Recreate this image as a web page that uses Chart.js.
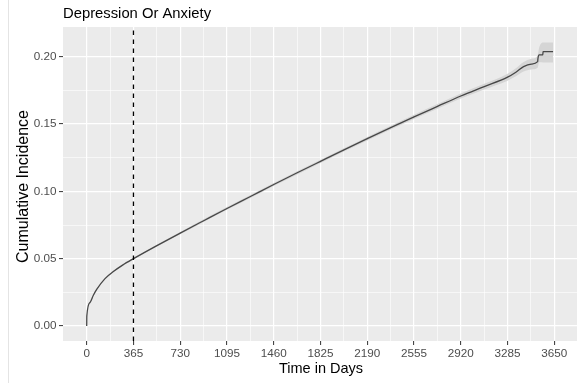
<!DOCTYPE html>
<html>
<head>
<meta charset="utf-8">
<script src="https://cdn.jsdelivr.net/npm/chart.js@4/dist/chart.umd.min.js"></script>
<style>
  html, body { margin: 0; padding: 0; background: #ffffff; }
  #wrap { width: 579px; height: 383px; position: relative; }
</style>
</head>
<body>
<div id="wrap"><canvas id="chart" width="579" height="383"></canvas></div>
<script>
// Texts
const plotTitle = 'Depression Or Anxiety';
const xAxisTitle = 'Time in Days';
const yAxisTitle = 'Cumulative Incidence';

// Axis ticks
const xTickDays = [0, 365, 730, 1095, 1460, 1825, 2190, 2555, 2920, 3285, 3650];
const xTickLabels = ['0', '365', '730', '1095', '1460', '1825', '2190', '2555', '2920', '3285', '3650'];
const xMinorDays = [182.5, 547.5, 912.5, 1277.5, 1642.5, 2007.5, 2372.5, 2737.5, 3102.5, 3467.5];
const yTickValues = [0, 0.05, 0.10, 0.15, 0.20];
const yTickLabels = ['0.00', '0.05', '0.10', '0.15', '0.20'];
const yMinorValues = [0.025, 0.075, 0.125, 0.175];

// Landmark at one year
const landmarkDay = 365;

// Cumulative incidence estimate
const days = [0, 1, 26, 52, 78, 143, 208, 280, 365, 548, 730, 913, 1095, 1278, 1460, 1643, 1825, 2008,
  2190, 2373, 2555, 2738, 2920, 3103, 3285, 3350, 3410, 3470, 3520, 3522, 3532, 3560, 3562, 3640];
const incidence = [0, 0.0075, 0.0175, 0.0228, 0.0272, 0.0352, 0.0404, 0.0452, 0.0500, 0.0597, 0.0690,
  0.0782, 0.0873, 0.0962, 0.1051, 0.1138, 0.1223, 0.1308, 0.1391, 0.1473, 0.1553, 0.1631, 0.1708,
  0.1778, 0.1848, 0.1885, 0.1926, 0.1945, 0.1963, 0.1985, 0.2013, 0.2013, 0.2037, 0.2037];

// Confidence band
const bandDays = [0, 26, 52, 78, 143, 208, 280, 365, 548, 730, 913, 1095, 1278, 1460, 1643, 1825, 2008,
  2190, 2373, 2555, 2738, 2920, 3103, 3285, 3350, 3410, 3470, 3520, 3532, 3562, 3640];
const bandLower = [0, 0.0172, 0.0225, 0.0268, 0.0347, 0.0399, 0.0446, 0.0494, 0.0590, 0.0681, 0.0772,
  0.0863, 0.0951, 0.1040, 0.1126, 0.1211, 0.1296, 0.1378, 0.1459, 0.1538, 0.1614, 0.1689, 0.1757,
  0.1822, 0.1855, 0.1891, 0.1905, 0.1918, 0.1958, 0.1957, 0.1957];
const bandUpper = [0, 0.0178, 0.0231, 0.0276, 0.0357, 0.0409, 0.0458, 0.0506, 0.0604, 0.0699, 0.0792,
  0.0883, 0.0973, 0.1062, 0.1150, 0.1235, 0.1320, 0.1404, 0.1487, 0.1568, 0.1648, 0.1727, 0.1799,
  0.1874, 0.1915, 0.1961, 0.1985, 0.2008, 0.2068, 0.2105, 0.2105];

const xMin = -185, xMax = 3827;
const yMin = -0.01114, yMax = 0.22206;

const near = (a, b) => Math.abs(a - b) < 1e-9;
const isMajorX = v => xTickDays.some(d => near(d, v));
const isMajorY = v => yTickValues.some(d => near(d, v));

const FONT = '"Liberation Sans", Arial, Helvetica, sans-serif';

const pts = (xs, ys) => xs.map((x, i) => ({ x: x, y: ys[i] }));

const decorations = {
  id: 'decorations',
  beforeDraw(chart) {
    const { ctx, chartArea: a } = chart;
    ctx.save();
    ctx.fillStyle = '#ffffff';
    ctx.fillRect(0, 0, chart.width, chart.height);
    // faint frame edge at the far left
    ctx.strokeStyle = '#e4e4e4';
    ctx.lineWidth = 1;
    ctx.beginPath();
    ctx.moveTo(8.5, 0);
    ctx.lineTo(8.5, chart.height);
    ctx.stroke();
    // panel background
    ctx.fillStyle = '#ebebeb';
    ctx.fillRect(a.left, a.top, a.right - a.left, a.bottom - a.top);
    ctx.restore();
  },
  afterDraw(chart) {
    const { ctx, chartArea: a } = chart;
    ctx.save();
    ctx.fillStyle = '#000000';
    ctx.textBaseline = 'alphabetic';
    // plot title
    ctx.font = '14.8px ' + FONT;
    ctx.textAlign = 'left';
    ctx.fillText(plotTitle, a.left, 17.5);
    // x axis title
    ctx.font = '14.5px ' + FONT;
    ctx.textAlign = 'center';
    ctx.fillText(xAxisTitle, (a.left + a.right) / 2 + 1, 372.7);
    // y axis title
    ctx.font = '16px ' + FONT;
    ctx.translate(28, 186.5);
    ctx.rotate(-Math.PI / 2);
    ctx.fillText(yAxisTitle, 0, 0);
    ctx.restore();
  }
};

new Chart(document.getElementById('chart'), {
  type: 'line',
  data: {
    datasets: [
      {
        label: 'incidence',
        data: pts(days, incidence),
        borderColor: '#474747',
        borderWidth: 1.3,
        pointRadius: 0,
        cubicInterpolationMode: 'monotone',
        fill: false,
        order: 1
      },
      {
        label: 'landmark',
        data: [{ x: landmarkDay, y: yMin }, { x: landmarkDay, y: yMax }],
        borderColor: '#000000',
        borderWidth: 1.3,
        borderDash: [4.5, 4.5],
        pointRadius: 0,
        fill: false,
        order: 0
      },
      {
        label: 'upper',
        data: pts(bandDays, bandUpper),
        borderWidth: 0,
        borderColor: 'rgba(0,0,0,0)',
        backgroundColor: '#d5d5d5',
        pointRadius: 0,
        cubicInterpolationMode: 'monotone',
        fill: '+1',
        order: 2
      },
      {
        label: 'lower',
        data: pts(bandDays, bandLower),
        borderWidth: 0,
        borderColor: 'rgba(0,0,0,0)',
        pointRadius: 0,
        cubicInterpolationMode: 'monotone',
        fill: false,
        order: 3
      }
    ]
  },
  options: {
    responsive: false,
    animation: false,
    layout: { padding: { top: 27, right: 2, left: 0, bottom: 0 } },
    plugins: {
      legend: { display: false },
      title: { display: false },
      tooltip: { enabled: false }
    },
    scales: {
      x: {
        type: 'linear',
        min: xMin,
        max: xMax,
        afterBuildTicks(scale) {
          scale.ticks = xTickDays.concat(xMinorDays).sort((p, q) => p - q).map(v => ({ value: v }));
        },
        afterFit(scale) { scale.height = 42; },
        border: { display: false },
        grid: {
          color: '#ffffff',
          lineWidth: c => (c.tick && isMajorX(c.tick.value)) ? 1.2 : 0.6,
          drawTicks: true,
          tickLength: 4,
          tickWidth: 1,
          tickColor: c => (c.tick && isMajorX(c.tick.value)) ? '#333333' : 'rgba(0,0,0,0)'
        },
        ticks: {
          autoSkip: false,
          maxRotation: 0,
          minRotation: 0,
          padding: 1.5,
          color: '#4d4d4d',
          font: { family: FONT, size: 11.7 },
          callback: v => {
            const i = xTickDays.findIndex(d => near(d, v));
            return i >= 0 ? xTickLabels[i] : '';
          }
        }
      },
      y: {
        type: 'linear',
        min: yMin,
        max: yMax,
        afterBuildTicks(scale) {
          scale.ticks = yTickValues.concat(yMinorValues).sort((p, q) => p - q).map(v => ({ value: v }));
        },
        afterFit(scale) { scale.width = 63; },
        border: { display: false },
        grid: {
          color: '#ffffff',
          lineWidth: c => (c.tick && isMajorY(c.tick.value)) ? 1.2 : 0.6,
          drawTicks: true,
          tickLength: 4,
          tickWidth: 1,
          tickColor: c => (c.tick && isMajorY(c.tick.value)) ? '#333333' : 'rgba(0,0,0,0)'
        },
        ticks: {
          autoSkip: false,
          padding: 2.5,
          color: '#4d4d4d',
          font: { family: FONT, size: 11.7 },
          callback: v => {
            const i = yTickValues.findIndex(d => near(d, v));
            return i >= 0 ? yTickLabels[i] : '';
          }
        }
      }
    }
  },
  plugins: [decorations]
});
</script>
</body>
</html>
